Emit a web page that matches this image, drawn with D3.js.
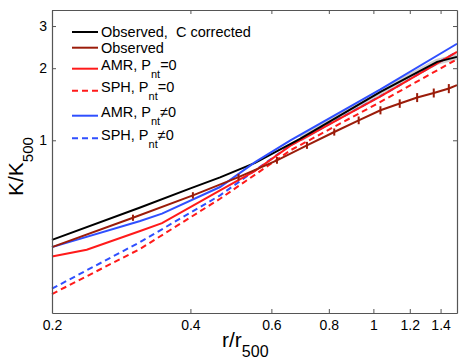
<!DOCTYPE html>
<html>
<head>
<meta charset="utf-8">
<script src="https://cdn.jsdelivr.net/npm/d3@7"></script>
<style>
  body { margin: 0; background: #fff; }
  svg { font-family: "Liberation Sans", Arial, Helvetica, sans-serif; }
  text { white-space: pre; }
</style>
</head>
<body>
<div id="chart"></div>
<script>
// data (r/r500 vs K/K500)
var xTicks = [0.2, 0.4, 0.6, 0.8, 1, 1.2, 1.4];
var xTickLabels = ["0.2", "0.4", "0.6", "0.8", "1", "1.2", "1.4"];
var yTicks = [1, 2, 3];
var yTickLabels = ["1", "2", "3"];

// Observed, C corrected
var obsCorrR = [0.2, 0.31, 0.4, 0.464, 0.553, 0.694, 1.036, 1.376, 1.52];
var obsCorrK = [0.384, 0.523, 0.63, 0.70, 0.805, 1.016, 1.592, 2.126, 2.23];

// Observed (with error bars)
var obsR = [0.2, 0.30, 0.405, 0.509, 0.617, 0.717, 0.822, 0.929, 1.036, 1.141, 1.245, 1.353, 1.459, 1.52];
var obsK = [0.358, 0.475, 0.589, 0.702, 0.825, 0.953, 1.083, 1.212, 1.335, 1.424, 1.509, 1.577, 1.645, 1.70];
var obsErr = [null, 0.014, 0.018, 0.022, 0.027, 0.032, 0.037, 0.045, 0.052, 0.058, 0.065, 0.068, 0.072, null];

// AMR, Pnt=0
var amr0R = [0.2, 0.238, 0.311, 0.347, 0.464, 0.553, 0.66, 1.036, 1.52];
var amr0K = [0.327, 0.349, 0.418, 0.451, 0.618, 0.745, 0.95, 1.525, 2.34];

// SPH, Pnt=0
var sph0R = [0.2, 0.311, 0.464, 0.66, 1.036, 1.52];
var sph0K = [0.228, 0.352, 0.57, 0.908, 1.446, 2.18];

// AMR, Pnt!=0
var amrNtR = [0.2, 0.311, 0.347, 0.464, 0.553, 0.66, 1.036, 1.52];
var amrNtK = [0.358, 0.46, 0.494, 0.638, 0.811, 1.0, 1.63, 2.53];

// SPH, Pnt!=0
var sphNtR = [0.2, 0.311, 0.464, 0.66, 1.036, 1.52];
var sphNtK = [0.24, 0.376, 0.589, 0.953, 1.528, 2.34];

var width = 463, height = 363;
var padLeft = 52, padRight = 457, padTop = 10, padBottom = 313;

var svg = d3.select("#chart").append("svg")
    .attr("width", width)
    .attr("height", height);

var x = d3.scaleLog().domain([0.2, 1.52]).range([padLeft, padRight]);
var y = d3.scaleLog().domain([0.19, 3.5]).range([padBottom, padTop]);

function zip(xs, ys) {
    return xs.map(function (v, i) { return [v, ys[i]]; });
}

var line = d3.line()
    .x(function (d) { return x(d[0]); })
    .y(function (d) { return y(d[1]); });

var plot = svg.append("g");

// faint grey band along the corrected profile at large radii
plot.append("path")
    .datum(zip(obsCorrR, obsCorrK).filter(function (d) { return d[0] >= 0.69; }))
    .attr("d", line)
    .attr("fill", "none")
    .attr("stroke", "#d0d0d0")
    .attr("stroke-width", 6);

var series = [
    { data: zip(sph0R, sph0K), color: "#ff1a1a", dash: "6,4" },
    { data: zip(sphNtR, sphNtK), color: "#2f4fff", dash: "6,4" },
    { data: zip(amr0R, amr0K), color: "#ff1a1a", dash: null },
    { data: zip(obsCorrR, obsCorrK), color: "#000000", dash: null },
    { data: zip(amrNtR, amrNtK), color: "#2f4fff", dash: null },
    { data: zip(obsR, obsK), color: "#9b1c0a", dash: null }
];

series.forEach(function (s) {
    plot.append("path")
        .datum(s.data)
        .attr("d", line)
        .attr("fill", "none")
        .attr("stroke", s.color)
        .attr("stroke-width", 2)
        .attr("stroke-dasharray", s.dash);
});

// error bars on the observed profile
plot.selectAll(".errbar")
    .data(obsR.map(function (r, i) { return { r: r, k: obsK[i], e: obsErr[i] }; })
        .filter(function (d) { return d.e !== null; }))
    .enter().append("line")
    .attr("class", "errbar")
    .attr("x1", function (d) { return x(d.r); })
    .attr("x2", function (d) { return x(d.r); })
    .attr("y1", function (d) { return y(d.k - d.e); })
    .attr("y2", function (d) { return y(d.k + d.e); })
    .attr("stroke", "#9b1c0a")
    .attr("stroke-width", 2);

// axes, ticks pointing inward on all four sides
svg.append("g")
    .attr("transform", "translate(0," + padBottom + ")")
    .call(d3.axisBottom(x).tickValues(xTicks)
        .tickFormat(function (d, i) { return xTickLabels[i]; })
        .tickSizeInner(-4).tickSizeOuter(0).tickPadding(7));

svg.append("g")
    .attr("transform", "translate(0," + padTop + ")")
    .call(d3.axisTop(x).tickValues(xTicks).tickFormat("")
        .tickSizeInner(-4).tickSizeOuter(0));

svg.append("g")
    .attr("transform", "translate(" + padLeft + ",0)")
    .call(d3.axisLeft(y).tickValues(yTicks)
        .tickFormat(function (d, i) { return yTickLabels[i]; })
        .tickSizeInner(-4).tickSizeOuter(0).tickPadding(5));

svg.append("g")
    .attr("transform", "translate(" + padRight + ",0)")
    .call(d3.axisRight(y).tickValues(yTicks).tickFormat("")
        .tickSizeInner(-4).tickSizeOuter(0));

svg.selectAll(".domain").attr("stroke", "#555").attr("stroke-width", 1.2);
svg.selectAll(".tick line").attr("stroke", "#555");
svg.selectAll(".tick text").attr("font-size", 14).attr("fill", "#000")
    .attr("font-family", "Liberation Sans, Arial, sans-serif");

// axis labels
var xl = svg.append("text")
    .attr("x", 222).attr("y", 347)
    .attr("font-size", 21);
xl.append("tspan").text("r/r");
xl.append("tspan").attr("dy", 10).attr("font-size", 16).text("500");

var yl = svg.append("text")
    .attr("transform", "translate(23,196) rotate(-90)")
    .attr("font-size", 21);
yl.append("tspan").text("K/K");
yl.append("tspan").attr("dy", 10).attr("font-size", 15).text("500");

// legend
var legendRows = [
    { parts: ["Observed,  C corrected"], color: "#000000", dash: null, ly: 32 },
    { parts: ["Observed"], color: "#9b1c0a", dash: null, ly: 47.7 },
    { parts: ["AMR, P", "nt", "=0"], color: "#ff1a1a", dash: null, ly: 68.7 },
    { parts: ["SPH, P", "nt", "=0"], color: "#ff1a1a", dash: "6,4", ly: 90.7 },
    { parts: ["AMR, P", "nt", "\u22600"], color: "#2f4fff", dash: null, ly: 115.7 },
    { parts: ["SPH, P", "nt", "\u22600"], color: "#2f4fff", dash: "6,4", ly: 138.3 }
];

var legend = svg.append("g");
legendRows.forEach(function (row) {
    legend.append("line")
        .attr("x1", 72).attr("x2", 98)
        .attr("y1", row.ly).attr("y2", row.ly)
        .attr("stroke", row.color)
        .attr("stroke-width", 2)
        .attr("stroke-dasharray", row.dash);
    var hasSub = row.parts.length > 1;
    var t = legend.append("text")
        .attr("x", 101)
        .attr("y", row.ly + (hasSub ? 1.5 : 5.3))
        .attr("font-size", 14.5);
    t.append("tspan").text(row.parts[0]);
    if (hasSub) {
        t.append("tspan").attr("dy", 8).attr("font-size", 11).text(row.parts[1]);
        t.append("tspan").attr("dy", -8).text(row.parts[2]);
    }
});
</script>
</body>
</html>
